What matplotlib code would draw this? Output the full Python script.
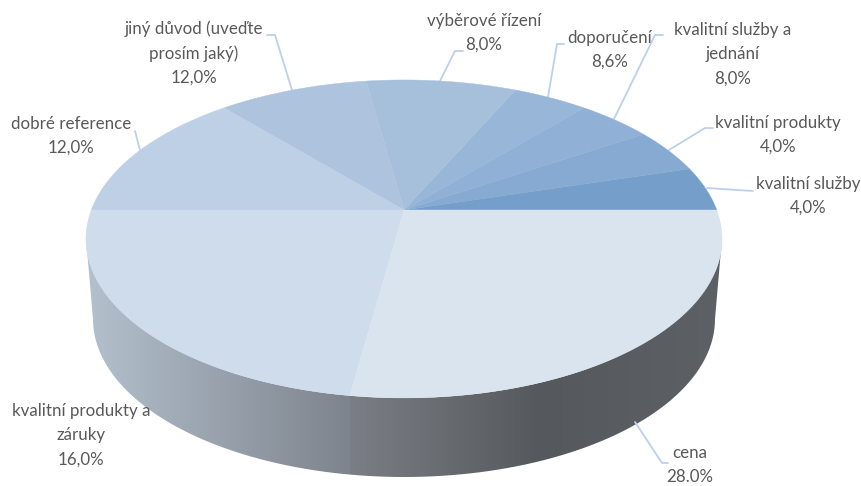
import numpy as np
import matplotlib
matplotlib.use('Agg')
import matplotlib.pyplot as plt
from matplotlib.path import Path
from matplotlib.patches import PathPatch
from matplotlib.colors import LinearSegmentedColormap

plt.rcParams['font.family'] = ['Lato', 'DejaVu Sans']

# printed labels, starting at 3 o'clock and going counterclockwise
kategorie = ['kvalitní služby', 'kvalitní produkty', 'kvalitní služby a\njednání', 'doporučení',
             'výběrové řízení', 'jiný důvod (uveďte\nprosím jaký)', 'dobré reference',
             'kvalitní produkty a\nzáruky', 'cena']
popisky = ['4,0%', '4,0%', '8,0%', '8,6%', '8,0%', '12,0%', '12,0%', '16,0%', '28.0%']
# slice sizes as drawn in the picture (they differ from the printed labels)
velikosti = [4, 4, 4, 4, 8, 8, 12, 20, 24]
barvy = ['#769ecb', '#86aad1', '#90b0d5', '#98b6d8', '#a6c0db', '#aec4de', '#bdd0e6', '#cedcec', '#dae4ef']

# label centres and leader lines in pixels
pozice = [(808, 196), (778, 135), (733, 54), (610, 50), (484, 33), (194, 53), (71, 136), (81, 435), (690, 465)]
vodici = [[(753, 191), (707, 188)],
          [(713, 128), (705, 128), (669, 150)],
          [(663, 35), (655, 35), (614, 119)],
          [(564, 44), (557, 44), (548, 97)],
          [(463, 51), (455, 51), (440, 81)],
          [(267, 35), (275, 35), (292, 90)],
          [(135, 131), (140, 150)],
          None,
          [(668, 463), (662, 463), (635, 422)]]

# pie geometry: perspective view of a circle, apex at (cx, cy)
cx, cy = 404, 210
a, b, k = 312.7, 153.7, 0.182


def bod(t):
    x, y = np.cos(t), np.sin(t)
    d = 1 + k * y
    return cx + a * x / d, cy - b * y / d


fig = plt.figure(figsize=(8.61, 4.86), dpi=100)
ax = fig.add_axes([0, 0, 1, 1])
ax.set_xlim(0, 861)
ax.set_ylim(486, 0)
ax.axis('off')

# rim: lower half of the top ellipse joined to the lower half of the bottom ellipse
s = np.linspace(np.pi, 2 * np.pi, 200)
hx, hy = 404 + 318 * np.cos(s), 238 - 160 * np.sin(s)
dx, dy = 404 + 311 * np.cos(s), 319 - 158 * np.sin(s)
obrys = np.vstack([np.column_stack([hx, hy]), np.column_stack([dx, dy])[::-1]])
rim = PathPatch(Path(np.vstack([obrys, obrys[0]])), fc='none', ec='none')
ax.add_patch(rim)

uhly = np.cumsum([0] + velikosti) / sum(velikosti) * 2 * np.pi
hranice = bod(uhly[-2])[0]
gx = np.linspace(80, 730, 650)
cm_l = LinearSegmentedColormap.from_list('l', ['#b3c0cd', '#7e848d'])
cm_p = LinearSegmentedColormap.from_list('p', [(0, '#7b7e84'), (0.51, '#55585c'), (1, '#5d6064')])
gr = np.array([cm_l((v - 87) / (hranice - 87)) if v < hranice else cm_p((v - hranice) / (722 - hranice)) for v in gx])
im = ax.imshow(gr[np.newaxis, :, :], extent=(80, 730, 490, 200), aspect='auto', interpolation='bilinear', zorder=1)
im.set_clip_path(rim)
ax.set_xlim(0, 861)
ax.set_ylim(486, 0)

# top of the pie
for i in range(len(velikosti)):
    t = np.linspace(uhly[i], uhly[i + 1], 120)
    px, py = bod(t)
    ax.fill(np.r_[cx, px], np.r_[cy, py], color=barvy[i], lw=0.3, zorder=2)

for i, txt in enumerate(kategorie):
    ax.text(pozice[i][0], pozice[i][1], txt + '\n' + popisky[i], ha='center', va='center',
            fontsize=12.2, color='#595959', linespacing=1.63, zorder=5)
    if vodici[i]:
        v = np.array(vodici[i])
        ax.plot(v[:, 0], v[:, 1], color='#bcd0ee', lw=1.3, solid_capstyle='round', zorder=1.5)

fig.savefig('out.png', dpi=100)
